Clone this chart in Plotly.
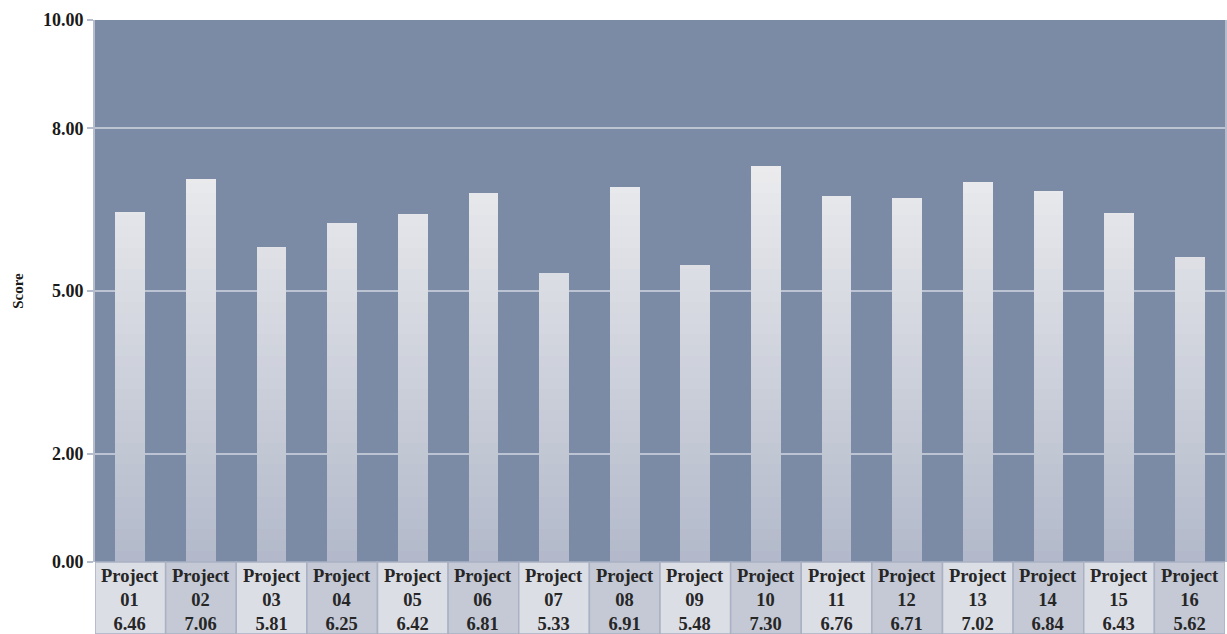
import plotly.graph_objects as go

# ---- data ----
project_ids = ["01", "02", "03", "04", "05", "06", "07", "08",
               "09", "10", "11", "12", "13", "14", "15", "16"]
scores = [6.46, 7.06, 5.81, 6.25, 6.42, 6.81, 5.33, 6.91,
          5.48, 7.30, 6.76, 6.71, 7.02, 6.84, 6.43, 5.62]
y_tick_values = [0, 2, 5, 8, 10]
y_tick_labels = ["0.00", "2.00", "5.00", "8.00", "10.00"]
y_title = "Score"

# ---- style ----
FONT = "Liberation Serif, Times New Roman, serif"
PLOT_BG = "#7b8ba6"
GRID = "#bcc4d4"
CELL_LIGHT = "#dcdee5"
CELL_DARK = "#c4c9d5"
CELL_LINE = "#a9b1c3"
BOTTOM_RGB = (177, 184, 201)
TOP_RGB = (236, 236, 239)
TOP_LEVEL = 7.5
PLOT_H = 634 - 20 - 72

fig = go.Figure()

def level_color(level):
    t = max(0.0, min(1.0, level / TOP_LEVEL))
    r, g, b = (round(BOTTOM_RGB[i] + (TOP_RGB[i] - BOTTOM_RGB[i]) * t) for i in range(3))
    return f"rgb({r},{g},{b})"

# vertical gradient: overlaid bars clipped at successively lower levels
step = 0.2
n_levels = int(max(scores) / step) + 2
levels = [round(step * k, 4) for k in range(n_levels, 0, -1)]
for lv in levels:
    fig.add_trace(go.Bar(
        x=project_ids,
        y=[min(v, lv) for v in scores],
        marker=dict(color=level_color(lv), line=dict(width=0)),
        width=0.42,
        hoverinfo="skip",
        showlegend=False,
    ))

# bottom data table (cells + text)
shapes = []
annotations = []
for i, (pid, v) in enumerate(zip(project_ids, scores)):
    shapes.append(dict(
        type="rect", xref="x", yref="paper",
        x0=i - 0.5, x1=i + 0.5, y0=-72 / PLOT_H, y1=0,
        fillcolor=CELL_LIGHT if i % 2 == 0 else CELL_DARK,
        line=dict(color=CELL_LINE, width=1.5),
        layer="above",
    ))
    annotations.append(dict(
        xref="x", yref="paper", x=i, y=-38 / PLOT_H,
        text=f"Project<br>{pid}<br>{v:.2f}",
        showarrow=False, xanchor="center", yanchor="middle",
        font=dict(family=FONT, size=18.5, color="#262626", weight="bold"),
    ))

fig.update_layout(
    width=1227, height=634,
    margin=dict(l=95, r=0, t=20, b=72),
    paper_bgcolor="white",
    plot_bgcolor=PLOT_BG,
    barmode="overlay",
    bargap=0,
    shapes=shapes,
    annotations=annotations,
    xaxis=dict(
        type="category",
        showticklabels=False,
        showgrid=False,
        zeroline=False,
        showline=False,
        ticks="",
        range=[-0.5, len(project_ids) - 0.5],
    ),
    yaxis=dict(
        range=[0, 10],
        tickmode="array",
        tickvals=y_tick_values,
        ticktext=y_tick_labels,
        ticks="outside",
        ticklen=6,
        tickwidth=2,
        tickcolor="#b5bdcd",
        tickfont=dict(family=FONT, size=18, color="#1a1a1a", weight="bold"),
        showgrid=True,
        gridcolor=GRID,
        gridwidth=2,
        zeroline=False,
        showline=True,
        linecolor="#b5bdcd",
        linewidth=2,
        mirror=True,
        title=dict(text=y_title, standoff=16,
                   font=dict(family=FONT, size=15, color="#1a1a1a", weight="bold")),
    ),
)

fig.write_html(
    "out.html",
    config={"displayModeBar": False},
    post_script="document.body.style.margin='0';document.body.style.overflow='hidden';",
)
